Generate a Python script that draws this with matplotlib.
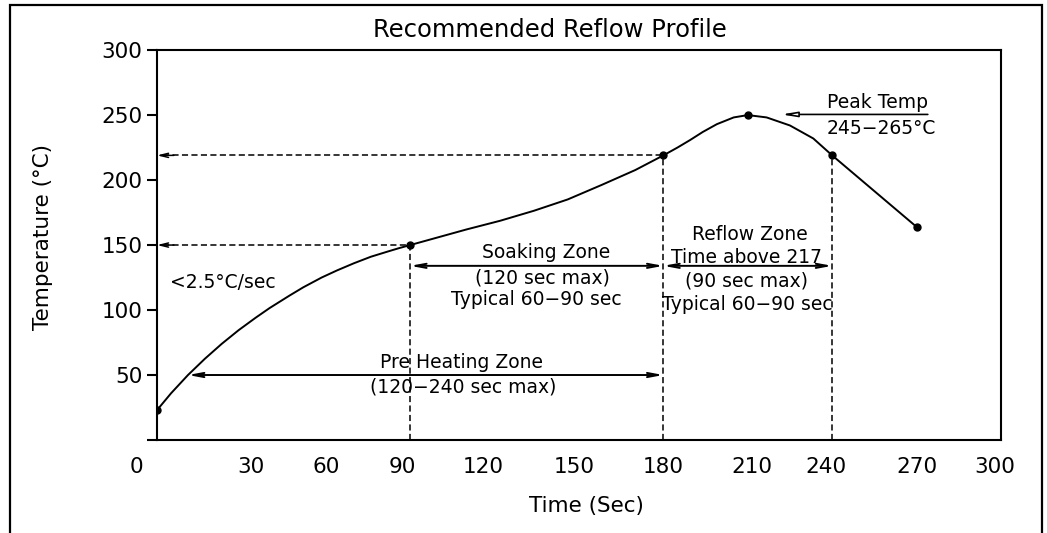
import matplotlib
matplotlib.use("Agg")
import matplotlib.pyplot as plt
from matplotlib.transforms import ScaledTranslation
from matplotlib.patches import Rectangle

# profile
time_s = [0, 5, 11, 17, 23, 29, 35, 40, 47, 52, 58.5, 64, 70, 76, 82, 86, 90,
          100, 110, 122, 134, 146, 158, 170, 180,
          185, 189.5, 194, 199, 205, 210, 216.7, 225, 233.3, 240, 270]
temp_c = [23, 36, 50, 62.5, 74, 84.5, 94, 101.5, 111, 117.5, 125, 130.5, 136, 141, 145, 147.6, 150,
          156, 162, 168.7, 176.4, 185.1, 196.2, 207.7, 219,
          225, 230.8, 237, 243, 248.2, 250, 248.2, 242, 232, 219, 164]
key_t = [0, 90, 180, 210, 240, 270]
key_T = [23, 150, 219, 250, 219, 164]

x_ticks = [0, 30, 60, 90, 120, 150, 180, 210, 240, 270, 300]
x_shift = [-21, 9, 0, -8, -11, -5, 0, 4, -6, 0, -6]   # px, hand placed labels
y_ticks = [0, 50, 100, 150, 200, 250, 300]
y_labels = ['', '50', '100', '150', '200', '250', '300']

soak = (90, 180, 134)
reflow = (180, 240, 134)
preheat = (11, 180, 50)

fig = plt.figure(figsize=(10.47, 5.33), dpi=100)
ax = fig.add_axes([0.15, 0.1745, 0.806, 0.7315])

fig.patches.append(Rectangle((0.0096, -0.05), 0.9856, 1.0406, transform=fig.transFigure,
                             fill=False, lw=1.6, ec='black'))

ax.plot(time_s, temp_c, color='black', lw=1.4, zorder=3)
ax.plot(key_t, key_T, 'o', color='black', ms=5, zorder=4)

dash = (0, (4, 2.2))
# dashed guides to the axis
for t, T in [(90, 150), (180, 219)]:
    ax.plot([2, t], [T, T], color='black', lw=1.1, ls=dash)
    ax.annotate('', xy=(0, T), xytext=(6, T),
                arrowprops=dict(arrowstyle='->,head_length=0.6,head_width=0.15', lw=1.1, color='black',
                                shrinkA=0, shrinkB=0))
for t, T in [(90, 150), (180, 219), (240, 219)]:
    ax.plot([t, t], [0, T], color='black', lw=1.1, ls=dash)

aprops = dict(arrowstyle='<->,head_length=0.8,head_width=0.15', lw=1.4, color='black',
              shrinkA=0, shrinkB=0)
for x0, x1, y in [soak, reflow, preheat]:
    ax.annotate('', xy=(x0, y), xytext=(x1, y), arrowprops=aprops)

# peak temp call-out
ax.annotate('', xy=(222, 250.5), xytext=(274, 250.5),
            arrowprops=dict(arrowstyle='-|>,head_length=0.9,head_width=0.15', lw=1.2,
                            ec='black', fc='white', shrinkA=0, shrinkB=0))
fs = 13.5
ax.text(238, 252, 'Peak Temp', fontsize=fs, ha='left', va='bottom')
ax.text(238, 240, '245\u2212265°C', fontsize=fs, ha='left', va='center')

ax.text(4.6, 121, '<2.5°C/sec', fontsize=fs, ha='left', va='center')

ax.text(138.3, 144, 'Soaking Zone', fontsize=fs, ha='center', va='center')
ax.text(137, 125, '(120 sec max)', fontsize=fs, ha='center', va='center')
ax.text(135, 108, 'Typical 60\u221290 sec', fontsize=fs, ha='center', va='center')

ax.text(210.8, 158, 'Reflow Zone', fontsize=fs, ha='center', va='center')
ax.text(209.4, 140.5, 'Time above 217', fontsize=fs, ha='center', va='center')
ax.text(209.6, 122, '(90 sec max)', fontsize=fs, ha='center', va='center')
ax.text(210, 104.6, 'Typical 60\u221290 sec', fontsize=fs, ha='center', va='center')

ax.text(108.4, 59.5, 'Pre Heating Zone', fontsize=fs, ha='center', va='center')
ax.text(108.8, 41, '(120\u2212240 sec max)', fontsize=fs, ha='center', va='center')

ax.set_xlim(0, 300)
ax.set_ylim(0, 300)
ax.set_xticks(x_ticks)
ax.set_xticklabels([str(v) for v in x_ticks], fontsize=15.5)
ax.set_yticks(y_ticks)
ax.set_yticklabels(y_labels, fontsize=15.5)
ax.tick_params(axis='x', length=0, pad=12)
ax.tick_params(axis='y', length=7, width=1.5, pad=3.5, direction='out')
for lab, dx in zip(ax.get_xticklabels(), x_shift):
    lab.set_transform(lab.get_transform() + ScaledTranslation(dx / 100, 0, fig.dpi_scale_trans))
for s in ax.spines.values():
    s.set_linewidth(1.5)

fig.text(0.525, 0.944, 'Recommended Reflow Profile', fontsize=17.5, ha='center', va='center')
fig.text(0.56, 0.051, 'Time (Sec)', fontsize=15.5, ha='center', va='center')
fig.text(0.041, 0.555, 'Temperature (°C)', fontsize=15.5, ha='center', va='center', rotation=90)

fig.savefig('out.png', dpi=100)
